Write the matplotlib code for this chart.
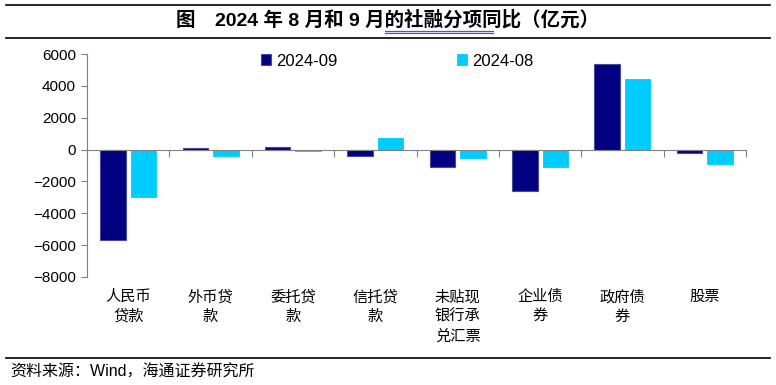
import numpy as np
import matplotlib.pyplot as plt
from matplotlib.transforms import blended_transform_factory
from matplotlib.lines import Line2D

plt.rcParams['font.family'] = ['Liberation Sans', 'Noto Sans CJK SC']

categories = ["人民币\n贷款", "外币贷\n款", "委托贷\n款", "信托贷\n款",
              "未贴现\n银行承\n兑汇票", "企业债\n券", "政府债\n券", "股票"]
sep = [-5650, 80, 180, -380, -1110, -2575, 5400, -210]
aug = [-3000, -400, -100, 700, -500, -1110, 4400, -920]

fig = plt.figure(figsize=(7.76, 3.85), dpi=100)
ax = fig.add_axes([87 / 776, 1 - 277 / 385, (746 - 87) / 776, (277 - 54) / 385])

x = np.arange(len(categories))
w = 0.31
b1 = ax.bar(x - 0.185, sep, w, color="#000080", edgecolor="#4a4a9a", linewidth=0.8, label="2024-09")
b2 = ax.bar(x + 0.185, aug, w, color="#00CCFF", edgecolor="#00CCFF", linewidth=0.6, label="2024-08")

ax.set_xlim(-0.5, len(categories) - 0.5)
ax.set_ylim(-8000, 6000)
ax.set_yticks(range(-8000, 6001, 2000))
ax.tick_params(axis="y", labelsize=11, length=4, color="#808080", pad=4)

ax.spines["top"].set_visible(False)
ax.spines["right"].set_visible(False)
ax.spines["left"].set_color("#808080")
ax.spines["bottom"].set_color("#808080")
ax.spines["bottom"].set_position(("data", 0))
ax.set_xticks(np.arange(0, len(categories) + 1) - 0.5)
ax.set_xticklabels([])
ax.tick_params(axis="x", direction="out", length=5, color="#808080")

trans = blended_transform_factory(ax.transData, ax.transAxes)
for i, c in enumerate(categories):
    ax.text(i, -13 / 223, c, transform=trans, ha="center", va="top",
            fontsize=11, linespacing=1.45)

fig.legend(handles=[b1, b2], loc="center", bbox_to_anchor=(397 / 776, 1 - 61 / 385),
           ncol=2, frameon=False, fontsize=12, handlelength=0.6, handleheight=0.6,
           handletextpad=0.3, columnspacing=7.2, borderaxespad=0)

# title block and separators
fig.text(0.5, 1 - 20 / 385, "图　2024 年 8 月和 9 月的社融分项同比（亿元）",
         ha="center", va="center", fontsize=14, fontweight="bold")
for yy in (5, 38, 358):
    fig.add_artist(Line2D([6 / 776, 770 / 776], [1 - yy / 385] * 2, color="black", lw=1.2))
fig.add_artist(Line2D([385 / 776, 493 / 776], [1 - 31 / 385] * 2, color="#3a5fcd", lw=0.9))
fig.add_artist(Line2D([385 / 776, 493 / 776], [1 - 33 / 385] * 2, color="#3a5fcd", lw=0.9))

fig.text(10 / 776, 1 - 372 / 385, "资料来源：Wind，海通证券研究所", ha="left", va="center", fontsize=11.5)

fig.savefig("out.png", dpi=100)
